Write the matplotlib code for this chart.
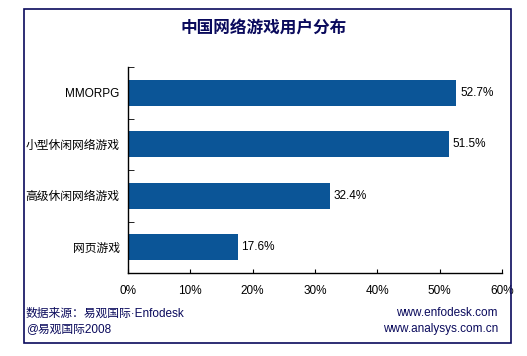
import matplotlib.pyplot as plt
from matplotlib.patches import Rectangle
from matplotlib.ticker import FixedLocator, PercentFormatter

plt.rcParams['font.family'] = ['Liberation Sans', 'Noto Sans CJK SC', 'DejaVu Sans']

categories = ['MMORPG', '小型休闲网络游戏', '高级休闲网络游戏', '网页游戏']
values = [52.7, 51.5, 32.4, 17.6]
xticks = [0, 10, 20, 30, 40, 50, 60]

W, H = 527, 356
fig = plt.figure(figsize=(W / 100, H / 100), dpi=100)
navy = '#0a0a5c'
bar_color = '#0b5597'

# outer frame
fig.patches.append(Rectangle((24 / W, 1 - 343 / H), (511 - 24) / W, (343 - 9) / H,
                             transform=fig.transFigure, fill=False,
                             edgecolor=navy, linewidth=1.2))

ax = fig.add_axes([128 / W, 1 - 273 / H, (502 - 128) / W, (273 - 67) / H])
y = list(range(len(categories)))
ax.barh(y, values, height=0.5, color=bar_color)
for yi, v in zip(y, values):
    ax.text(v + 0.6, yi, f'{v}%', va='center', ha='left', fontsize=8.5)

ax.set_xlim(0, 60)
ax.set_ylim(len(categories) - 0.5, -0.5)
ax.set_xticks(xticks)
ax.xaxis.set_major_formatter(PercentFormatter(decimals=0))
ax.set_yticks(y)
ax.set_yticklabels(categories, fontsize=8.5)
ax.yaxis.set_minor_locator(FixedLocator([i - 0.5 for i in range(len(categories) + 1)]))
ax.tick_params(axis='y', which='major', length=0, pad=6)
ax.tick_params(axis='y', which='minor', direction='in', length=4)
ax.tick_params(axis='x', direction='in', length=3, labelsize=8.5, pad=9)
for s in ['top', 'right']:
    ax.spines[s].set_visible(False)
for s in ['left', 'bottom']:
    ax.spines[s].set_linewidth(1.0)

fig.text(0.5, 1 - 28 / H, '中国网络游戏用户分布', ha='center', va='center',
         fontsize=12, fontweight='bold', color=navy)
fig.text(26 / W, 1 - 314 / H, '数据来源：易观国际·Enfodesk', ha='left', va='center',
         fontsize=8.5, color=navy)
fig.text(26 / W, 1 - 329 / H, '@易观国际2008', ha='left', va='center',
         fontsize=8.5, color=navy)
fig.text(498 / W, 1 - 313 / H, 'www.enfodesk.com', ha='right', va='center',
         fontsize=8.5, color=navy)
fig.text(498 / W, 1 - 329 / H, 'www.analysys.com.cn', ha='right', va='center',
         fontsize=8.5, color=navy)

fig.savefig('out.png', dpi=100)
